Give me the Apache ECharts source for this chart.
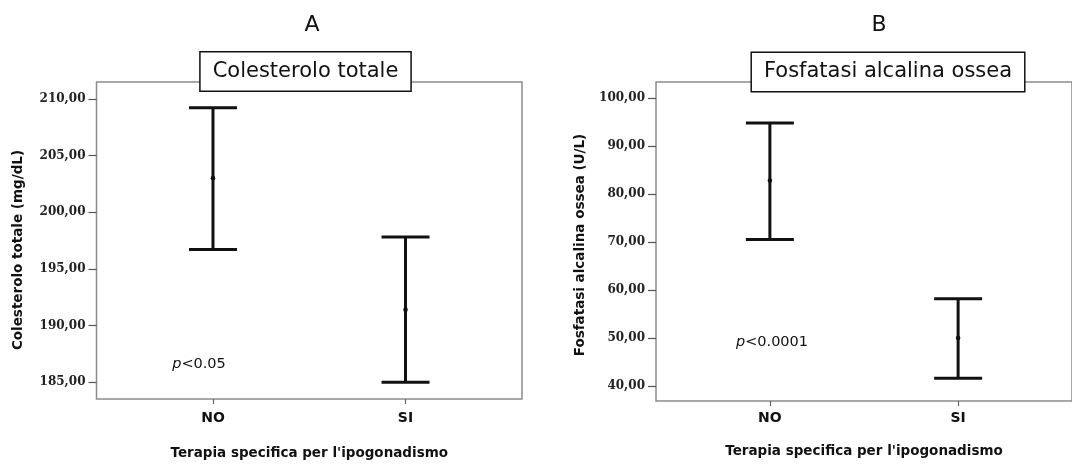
<!DOCTYPE html>
<html><head><meta charset="utf-8">
<script src="https://cdn.jsdelivr.net/npm/echarts@6/dist/echarts.min.js"></script>
<style>html,body{margin:0;padding:0;background:#fff}#c{width:1072px;height:465px}</style>
</head><body><div id="c"></div>
<script>
// ---- data ----
const categories = ['NO', 'SI'];
const cholMean = [203.0, 191.4];
const cholLow  = [196.7, 185.0];
const cholHigh = [209.2, 197.8];
const alpMean  = [82.8, 50.0];
const alpLow   = [70.5, 41.6];
const alpHigh  = [94.8, 58.2];
const cholTicks = [185, 190, 195, 200, 205, 210];
const alpTicks  = [40, 50, 60, 70, 80, 90, 100];
const panelLetters = ['A', 'B'];
const panelTitles = ['Colesterolo totale', 'Fosfatasi alcalina ossea'];
const yTitles = ['Colesterolo totale (mg/dL)', 'Fosfatasi alcalina ossea (U/L)'];
const xTitle = "Terapia specifica per l'ipogonadismo";
const pValues = ['0.05', '0.0001'];

// ---- build ----
const FONT = '"DejaVu Sans", sans-serif';
const GRAY = '#8c8c8c';
function errData(lo, hi, mean) {
  return categories.map((c, i) => [i, lo[i], hi[i], mean[i]]);
}
function renderErr(params, api) {
  const x = api.value(0);
  const lo = api.coord([x, api.value(1)]);
  const hi = api.coord([x, api.value(2)]);
  const mid = api.coord([x, api.value(3)]);
  const hw = 24;
  const st = { stroke: '#111', lineWidth: 3, lineCap: 'butt' };
  return { type: 'group', children: [
    { type: 'line', shape: { x1: lo[0], y1: lo[1], x2: hi[0], y2: hi[1] }, style: st },
    { type: 'line', shape: { x1: hi[0] - hw, y1: hi[1], x2: hi[0] + hw, y2: hi[1] }, style: st },
    { type: 'line', shape: { x1: lo[0] - hw, y1: lo[1], x2: lo[0] + hw, y2: lo[1] }, style: st },
    { type: 'circle', shape: { cx: mid[0], cy: mid[1], r: 2.3 }, style: { fill: '#111' } }
  ]};
}
function xAx(gi, margin, gap) {
  return {
    gridIndex: gi, type: 'value', min: -0.605, max: 1.605,
    axisLine: { show: false, onZero: false }, splitLine: { show: false },
    axisTick: { show: true, customValues: [0, 1], length: 5, lineStyle: { color: '#666', width: 1.2 } },
    axisLabel: { customValues: [0, 1], formatter: v => categories[Math.round(v)] || '', margin: margin,
      fontFamily: FONT, fontWeight: 'bold', fontSize: 14, color: '#111' },
    name: xTitle, nameLocation: 'middle', nameGap: gap,
    nameTextStyle: { fontFamily: FONT, fontWeight: 'bold', fontSize: 13.5, color: '#111' }
  };
}
function yAx(gi, min, max, ticks) {
  return {
    gridIndex: gi, type: 'value', min: min, max: max,
    axisLine: { show: false, onZero: false }, splitLine: { show: false },
    axisTick: { show: true, customValues: ticks, length: 8, lineStyle: { color: '#555', width: 1.2 } },
    axisLabel: { customValues: ticks, formatter: v => v.toFixed(2).replace('.', ','), margin: 11,
      fontFamily: '"DejaVu Serif", serif', fontWeight: 'bold', fontSize: 12, color: '#222' }
  };
}
function boxTitle(text, cx, cy) {
  return { type: 'text', z: 100, x: cx, y: cy, style: {
    text: text, align: 'center', verticalAlign: 'middle', fontFamily: FONT, fontSize: 21,
    fill: '#111', backgroundColor: '#fff', borderColor: '#111', borderWidth: 1.5, padding: [8, 12], lineHeight: 22 } };
}
function pText(val, cx, cy) {
  return { type: 'text', z: 100, x: cx, y: cy, style: {
    text: '{i|p}<' + val, align: 'center', verticalAlign: 'middle', fontFamily: FONT, fontSize: 14.5, fill: '#111',
    rich: { i: { fontStyle: 'italic', fontFamily: FONT, fontSize: 14.5, fill: '#111' } } } };
}
function yTitle(text, cx, cy) {
  return { type: 'text', z: 100, x: cx, y: cy, rotation: Math.PI / 2, style: {
    text: text, align: 'center', verticalAlign: 'middle', fontFamily: FONT, fontWeight: 'bold', fontSize: 13.5, fill: '#111' } };
}

const option = {
  backgroundColor: '#fff',
  animation: false,
  grid: [
    { left: 96.5, top: 82, width: 425.5, height: 321, show: true, borderColor: GRAY, borderWidth: 1.5 },
    { left: 656, top: 82, width: 424, height: 319, show: true, borderColor: GRAY, borderWidth: 1.5 }
  ],
  xAxis: [xAx(0, 12, 47), xAx(1, 10, 43)],
  yAxis: [yAx(0, 183.52, 211.48, cholTicks), yAx(1, 36.875, 103.33, alpTicks)],
  series: [
    { type: 'custom', xAxisIndex: 0, yAxisIndex: 0, renderItem: renderErr,
      encode: { x: 0, y: [1, 2, 3] }, data: errData(cholLow, cholHigh, cholMean) },
    { type: 'custom', xAxisIndex: 1, yAxisIndex: 1, renderItem: renderErr,
      encode: { x: 0, y: [1, 2, 3] }, data: errData(alpLow, alpHigh, alpMean) }
  ],
  graphic: [
    { type: 'text', z: 100, x: 312, y: 25, style: { text: panelLetters[0], align: 'center', verticalAlign: 'middle', fontFamily: FONT, fontSize: 22, fill: '#111' } },
    { type: 'text', z: 100, x: 879, y: 25, style: { text: panelLetters[1], align: 'center', verticalAlign: 'middle', fontFamily: FONT, fontSize: 22, fill: '#111' } },
    boxTitle(panelTitles[0], 305.5, 71.5),
    boxTitle(panelTitles[1], 888, 72),
    yTitle(yTitles[0], 18, 250),
    yTitle(yTitles[1], 580, 245),
    pText(pValues[0], 199, 364),
    pText(pValues[1], 772, 342)
  ]
};
const chart = echarts.init(document.getElementById('c'), null, { renderer: 'canvas' });
chart.setOption(option);
</script>
</body></html>
